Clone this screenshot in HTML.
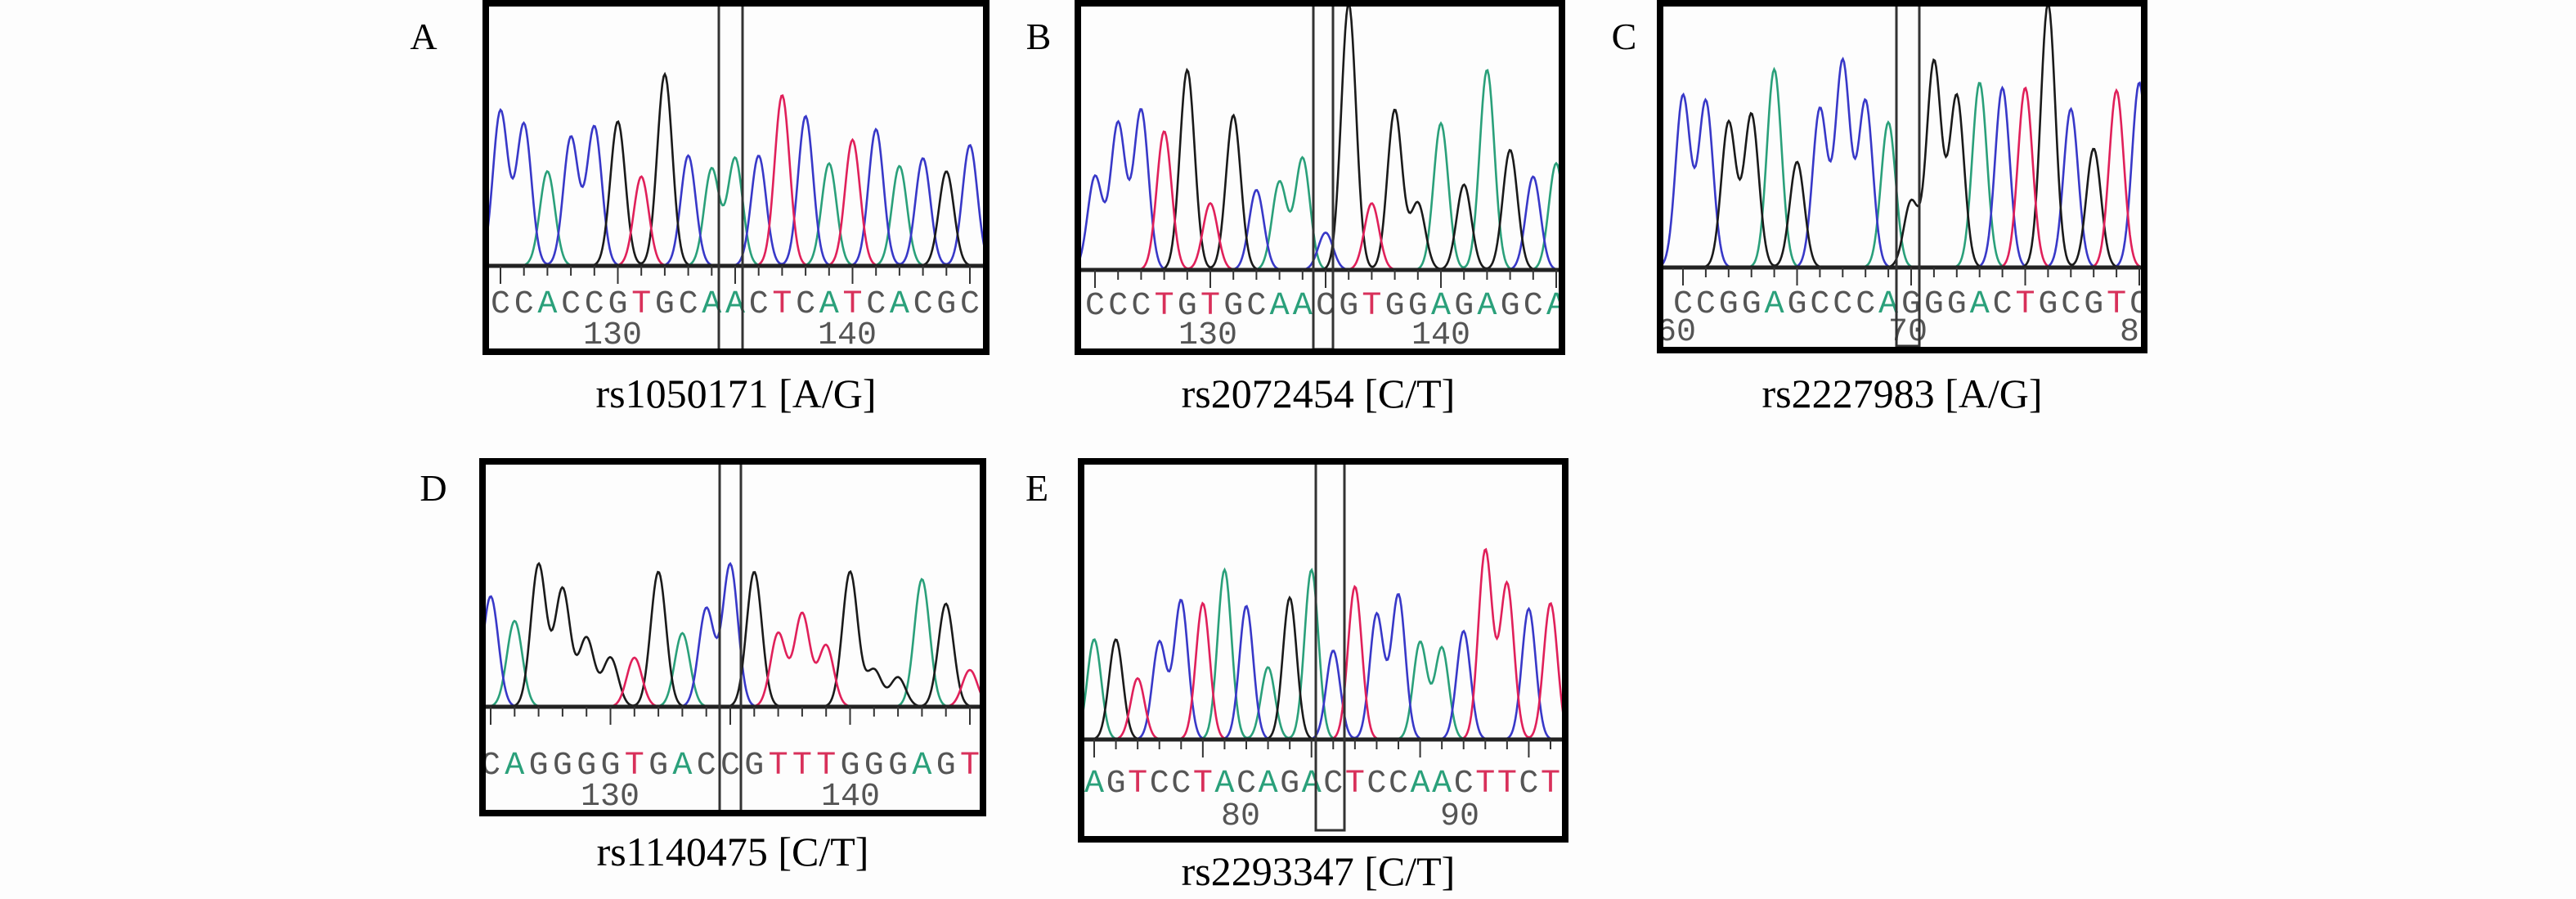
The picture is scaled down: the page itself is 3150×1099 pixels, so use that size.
<!DOCTYPE html>
<html><head><meta charset="utf-8">
<style>
html,body{margin:0;padding:0;background:#fff;}
svg{display:block;}
text{font-family:"Liberation Serif",serif;}
</style></head>
<body>
<svg id="s" width="3150" height="1099" viewBox="0 0 3150 1099" xmlns="http://www.w3.org/2000/svg">
<rect width="3150" height="1099" fill="#fdfdfd"/>
<text x="518" y="60" font-size="46" text-anchor="middle">A</text>
<text x="1270" y="60" font-size="46" text-anchor="middle">B</text>
<text x="1986" y="60" font-size="46" text-anchor="middle">C</text>
<text x="530" y="612" font-size="46" text-anchor="middle">D</text>
<text x="1268" y="612" font-size="46" text-anchor="middle">E</text>
<text x="900" y="498" font-size="50" text-anchor="middle">rs1050171 [A/G]</text>
<text x="1612" y="498" font-size="50" text-anchor="middle">rs2072454 [C/T]</text>
<text x="2326" y="498" font-size="50" text-anchor="middle">rs2227983 [A/G]</text>
<text x="896" y="1058" font-size="50" text-anchor="middle">rs1140475 [C/T]</text>
<text x="1612" y="1082" font-size="50" text-anchor="middle">rs2293347 [C/T]</text>
</svg>
<script>
var NS="http://www.w3.org/2000/svg",S=document.getElementById("s");
function el(t,a,p){var e=document.createElementNS(NS,t);for(var k in a)e.setAttribute(k,a[k]);(p||S).appendChild(e);return e;}
var COL={C:"#3838c8",A:"#2aa07a",G:"#1a1a1a",T:"#e0205a"};
var TCOL={C:"#555",A:"#2aa07a",G:"#555",T:"#d8305a"};
var id=0;
function panel(P){
 id++;
 var cp=el("clipPath",{id:"c"+id});el("rect",{x:P.x,y:P.y,width:P.w,height:P.h},cp);
 var g=el("g",{"clip-path":"url(#c"+id+")"});
 var n=P.seq.length,x0=P.lx0,x1=P.lx1,sp=(x1-x0)/(n-1),rng=P.base-P.y;
 var sig=sp*0.32;
 ["A","C","G","T"].forEach(function(L){
  var d="";
  for(var X=P.x;X<=P.x+P.w;X+=1.5){
   var v=0;
   for(var i=0;i<n;i++){if(P.seq[i]!=L)continue;var px=x0+i*sp;var z=(X-px)/sig;v+=P.hts[i]*Math.exp(-z*z/2);}
   var Y=P.base-v*rng;
   d+=(d?"L":"M")+X.toFixed(1)+" "+Y.toFixed(1);
  }
  el("path",{d:d,fill:"none",stroke:COL[L],"stroke-width":2.6},g);
 });
 el("line",{x1:P.x,y1:P.base,x2:P.x+P.w,y2:P.base,stroke:"#222","stroke-width":5},g);
 for(var i=0;i<n;i++){
  var px=x0+i*sp;
  el("line",{x1:px,y1:P.base,x2:px,y2:P.base+(i%5==0?22:12),stroke:"#333","stroke-width":2},g);
  var t=el("text",{x:px,y:P.ly,"font-size":40,"text-anchor":"middle",fill:TCOL[P.seq[i]],style:"font-family:'Liberation Mono',monospace"},g);
  t.textContent=P.seq[i];
 }
 P.nums.forEach(function(q){var t=el("text",{x:q[1],y:P.ny,"font-size":40,"text-anchor":"middle",fill:"#555",style:"font-family:'Liberation Mono',monospace"},g);t.textContent=q[0];});
 el("rect",{x:P.hl[0],y:P.hl[2],width:P.hl[1]-P.hl[0],height:P.hl[3]-P.hl[2],fill:"none",stroke:"#333","stroke-width":3});
 el("rect",{x:P.x,y:P.y,width:P.w,height:P.h,fill:"none",stroke:"#000","stroke-width":8});
}
panel({x:594,y:4,w:612,h:426,base:325,ly:382,ny:420,lx0:612,lx1:1186,
 seq:"CCACCGTGCAACTCATCACGC",
 hts:[.59,.54,.36,.49,.53,.55,.34,.73,.42,.37,.41,.42,.65,.57,.39,.48,.52,.38,.41,.36,.46],
 nums:[["130",749],["140",1036]],hl:[879,908,4,432]});
panel({x:1318,y:4,w:592,h:426,base:330,ly:384,ny:420,lx0:1339,lx1:1903,
 seq:"CCCTGTGCAACGTGGAGAGCA",
 hts:[.35,.55,.6,.52,.75,.25,.58,.3,.33,.42,.14,1.0,.25,.6,.25,.55,.32,.75,.45,.35,.4],
 nums:[["130",1477],["140",1762]],hl:[1606,1630,4,427]});
panel({x:2030,y:4,w:592,h:424,base:327,ly:382,ny:416,lx0:2058,lx1:2616,
 seq:"CCGGAGCCCAGGGACTGCGTC",
 hts:[.65,.63,.55,.58,.75,.4,.6,.78,.63,.55,.25,.78,.65,.7,.68,.68,1.0,.6,.45,.67,.7],
 nums:[["60",2050],["70",2333],["80",2616]],hl:[2319,2347,4,423]});
panel({x:590,y:564,w:612,h:430,base:864,ly:946,ny:984,lx0:600,lx1:1186,
 seq:"CAGGGGTGACCGTTTGGGAGT",
 hts:[.45,.35,.58,.48,.28,.2,.2,.55,.3,.4,.58,.55,.3,.38,.25,.55,.15,.12,.52,.42,.15],
 nums:[["130",746],["140",1040]],hl:[880,906,564,994]});
panel({x:1322,y:564,w:592,h:462,base:904,ly:968,ny:1008,lx0:1338,lx1:1896,
 seq:"AGTCCTACAGACTCCAACTTCT",
 hts:[.36,.36,.22,.35,.5,.49,.61,.48,.26,.51,.61,.32,.55,.45,.52,.35,.33,.39,.68,.56,.47,.49],
 nums:[["80",1517],["90",1785]],hl:[1609,1644,564,1015]});
</script>
</body></html>
